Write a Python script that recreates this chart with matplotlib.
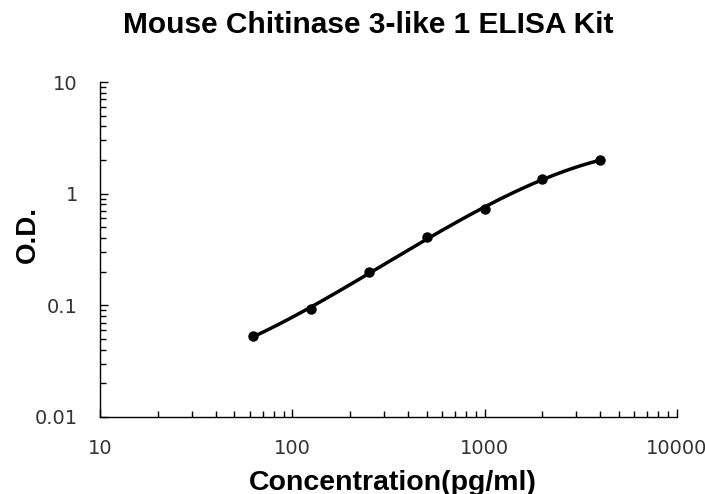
import matplotlib
matplotlib.use('Agg')
import matplotlib.pyplot as plt
import numpy as np

# Standard curve readings
conc = [62.5, 125, 250, 500, 1000, 2000, 4000]
od = [0.053, 0.092, 0.198, 0.405, 0.725, 1.35, 2.0]

plt.rcParams['font.family'] = ['Liberation Sans', 'DejaVu Sans']

fig = plt.figure(figsize=(7.05, 4.94), dpi=100)
ax = fig.add_axes([0.142, 0.156, 0.818, 0.678])

# smooth fitted curve in log-log space
lx = np.log10(conc)
ly = np.log10(od)
coef = np.polyfit(lx, ly, 3)
xs = np.linspace(lx[0], lx[-1], 200)
ax.plot(10**xs, 10**np.polyval(coef, xs), color='black', lw=2.5, zorder=2)
ax.plot(conc, od, 'o', color='black', ms=6.5, zorder=3)

ax.set_xscale('log')
ax.set_yscale('log')
ax.set_xlim(10, 10000)
ax.set_ylim(0.01, 10)
ax.set_xticks([10, 100, 1000, 10000])
ax.set_xticklabels(['10', '100', '1000', '10000'])
ax.set_yticks([0.01, 0.1, 1, 10])
ax.set_yticklabels(['0.01', '0.1', '1', '10'])

for s in ['top', 'right']:
    ax.spines[s].set_visible(False)
for s in ['left', 'bottom']:
    ax.spines[s].set_linewidth(1.0)

ax.tick_params(which='major', direction='in', length=6, width=1, labelsize=14,
               pad=16, labelcolor='#333333')
ax.tick_params(which='minor', direction='in', length=4, width=1)
for lab in ax.get_xticklabels() + ax.get_yticklabels():
    lab.set_family('DejaVu Sans')

ax.set_xlabel('Concentration(pg/ml)', fontsize=20.5, fontweight='bold')
ax.set_ylabel('O.D.', fontsize=20, fontweight='bold')
ax.xaxis.set_label_coords(0.507, -0.157)
ax.yaxis.set_label_coords(-0.103, 0.545)
fig.suptitle('Mouse Chitinase 3-like 1 ELISA Kit', fontsize=21.5, fontweight='bold',
             x=0.523, y=0.978)

fig.savefig('out.png', dpi=100)
